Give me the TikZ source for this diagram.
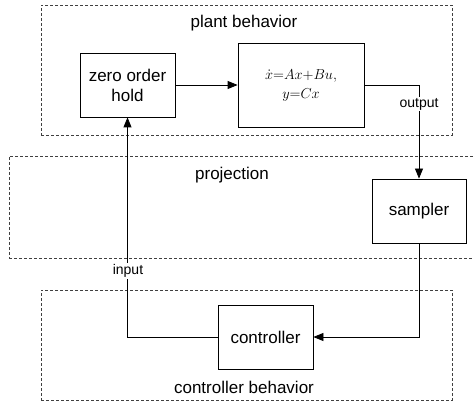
\documentclass[tikz,border=0pt]{standalone}
\usepackage{fontspec}
\setmainfont{Liberation Sans}
\usetikzlibrary{arrows.meta}
\begin{document}
\begin{tikzpicture}[x=1pt,y=-1pt,
  blk/.style={draw, line width=0.8pt, inner sep=0pt, align=center,
    font=\fontsize{17}{20}\selectfont},
  grp/.style={draw=black!75, dash pattern=on 3pt off 2pt, line width=0.7pt, inner sep=0pt},
  lbl/.style={font=\fontsize{17}{20}\selectfont, inner sep=0pt},
  small/.style={font=\fontsize{14}{16}\selectfont, fill=white, inner sep=1.5pt},
  conn/.style={line width=0.8pt, -{Triangle[length=10pt,width=8pt]}}]
\useasboundingbox (0,0) rectangle (474,401);
% groups
\node[grp, minimum width=411pt, minimum height=130pt] (plant) at (246.5,70) {};
\node[grp, minimum width=471pt, minimum height=102pt] (proj) at (244.5,207) {};
\node[grp, minimum width=411pt, minimum height=110pt] (ctrlg) at (246.5,345) {};
\node[lbl] (plantlbl) at (244,23) {plant behavior};
\node[lbl] (projlbl) at (232,175) {projection};
\node[lbl] (ctrllbl) at (244,387) {controller behavior};
% blocks
\node[blk, minimum width=95pt, minimum height=64pt] (zoh) at (127.5,85) {zero order\\hold};
\node[blk, minimum width=126pt, minimum height=84pt, font=\fontsize{15}{19}\selectfont] (ode) at (301,85) {$\dot{x}{=}Ax{+}Bu,$\\$y{=}Cx$};
\node[blk, minimum width=94pt, minimum height=64pt, fill=white] (sampler) at (419,211) {sampler};
\node[blk, minimum width=95pt, minimum height=64pt, fill=white] (ctrl) at (265.5,337) {controller};
% connectors
\draw[conn] (zoh) -- (ode);
\draw[conn] (ode.east) -| (sampler.north);
\draw[conn] (sampler.south) |- (ctrl.east);
\draw[conn] (ctrl.west) -| (zoh.south);
% connector labels
\node[small] (outlbl) at (419,104) {output};
\node[small] (inlbl) at (128,271) {input};
\end{tikzpicture}
\end{document}
